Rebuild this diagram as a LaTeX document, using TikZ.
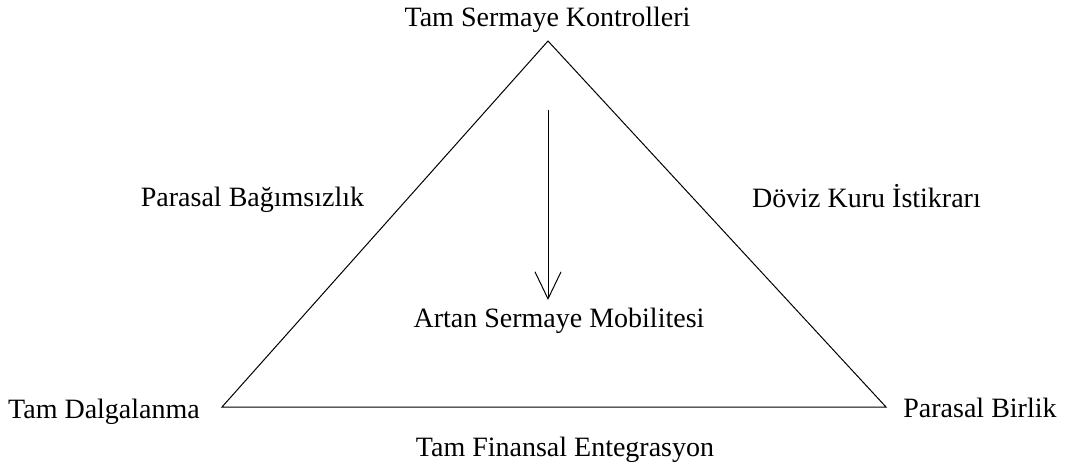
\documentclass[tikz,border=0pt]{standalone}
\usepackage{fontspec}
\setmainfont{Liberation Serif}
\usetikzlibrary{arrows.meta}
\tikzset{
  lbl/.style={anchor=base, inner sep=0pt, font=\fontsize{28}{32}\selectfont},
  edge/.style={draw=black, line width=1pt, line join=miter},
  flow/.style={draw=black, line width=1pt, -{Straight Barb[length=27pt,width=26pt]}}
}
\begin{document}
\begin{tikzpicture}[x=1pt,y=-1pt]
\useasboundingbox (0,0) rectangle (1065,468);
\coordinate (top) at (548,41);
\coordinate (bl) at (222,407);
\coordinate (br) at (886,407);
\coordinate (as) at (548,110);
\coordinate (ae) at (548,300);
\draw[edge] (top) -- (br) -- (bl) -- cycle;
\draw[flow] (as) -- (ae);
\node[lbl] (tsk) at (547.5,27) {Tam Sermaye Kontrolleri};
\node[lbl] (pb) at (252.5,206) {Parasal Bağımsızlık};
\node[lbl] (dki) at (866.5,207) {Döviz Kuru İstikrarı};
\node[lbl] (asm) at (559,327) {Artan Sermaye Mobilitesi};
\node[lbl] (td) at (104,418) {Tam Dalgalanma};
\node[lbl] (pbr) at (980,417) {Parasal Birlik};
\node[lbl] (tfe) at (565,456) {Tam Finansal Entegrasyon};
\end{tikzpicture}
\end{document}
